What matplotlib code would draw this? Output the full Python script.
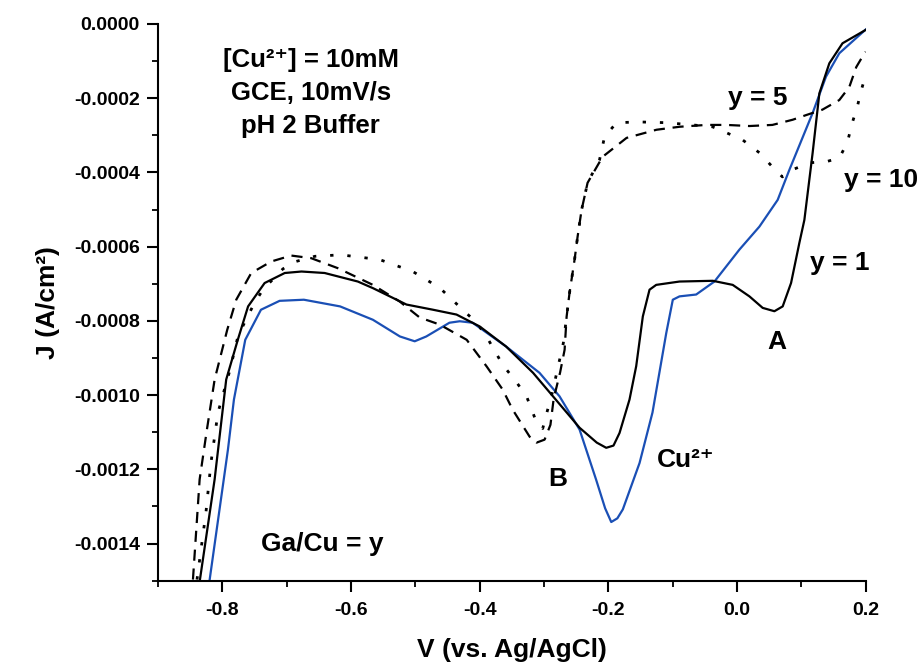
import matplotlib
matplotlib.use("Agg")
import matplotlib.pyplot as plt
from matplotlib.ticker import MultipleLocator, FuncFormatter

plt.rcParams['font.family'] = ['Liberation Sans', 'DejaVu Sans']
plt.rcParams['font.weight'] = 'bold'

# Cu2+ only (blue)
v_cu = [-0.8197, -0.7913, -0.782, -0.7644, -0.740, -0.711, -0.6733, -0.617, -0.566,
        -0.524, -0.501, -0.483, -0.447, -0.431, -0.411, -0.359, -0.307, -0.276,
        -0.2447, -0.219, -0.205, -0.1955, -0.186, -0.1775, -0.1515, -0.1314, -0.110,
        -0.0998, -0.0894, -0.0635, -0.0351, 0.0037, 0.0348, 0.0632, 0.0814, 0.1175,
        0.1383, 0.159, 0.2]
j_cu = [-0.001497, -0.0011467, -0.001012, -0.000851, -0.000770, -0.000746, -0.000743,
        -0.000761, -0.000797, -0.000842, -0.000855, -0.000842, -0.000805, -0.000801,
        -0.000805, -0.000869, -0.000940, -0.001003, -0.001093, -0.001228, -0.001305,
        -0.001342, -0.001332, -0.001308, -0.001183, -0.001047, -0.000833, -0.000743,
        -0.000734, -0.000729, -0.000694, -0.000608, -0.000546, -0.000474, -0.000393,
        -0.000240, -0.000142, -0.0000789, -0.000015]

# Ga/Cu = 1 (solid black)
v_y1 = [-0.8348, -0.812, -0.794, -0.776, -0.760, -0.7343, -0.703, -0.677, -0.641,
        -0.5894, -0.5657, -0.5138, -0.4725, -0.436, -0.400, -0.359, -0.317, -0.2862,
        -0.2447, -0.218, -0.2033, -0.192, -0.1826, -0.1671, -0.1567, -0.1464, -0.136,
        -0.1256, -0.0894, -0.0377, -0.0067, 0.0193, 0.0399, 0.0581, 0.071, 0.084,
        0.0969, 0.1047, 0.1175, 0.128, 0.1435, 0.164, 0.2]
j_y1 = [-0.001497, -0.001227, -0.000958, -0.000851, -0.000761, -0.000698, -0.000671,
        -0.000667, -0.000671, -0.000694, -0.000712, -0.000756, -0.000770, -0.000783,
        -0.000815, -0.000869, -0.000940, -0.001003, -0.001088, -0.001128, -0.001142,
        -0.001136, -0.001102, -0.001012, -0.000922, -0.000788, -0.000716, -0.000703,
        -0.000694, -0.000692, -0.000703, -0.000734, -0.000765, -0.000774, -0.000761,
        -0.000698, -0.000590, -0.000528, -0.000348, -0.000187, -0.000106, -0.000052,
        -0.000016]

# Ga/Cu = 5 (dashed)
v_y5 = [-0.8457, -0.8353, -0.824, -0.812, -0.7924, -0.7784, -0.7551, -0.724, -0.693,
        -0.662, -0.6205, -0.566, -0.5242, -0.4932, -0.4621, -0.4202, -0.3891,
        -0.3643, -0.3488, -0.3224, -0.3115, -0.2991, -0.2900, -0.2850, -0.2750,
        -0.2680, -0.2649, -0.2603, -0.2525, -0.2478, -0.2416, -0.2323, -0.209,
        -0.1717, -0.1251, -0.0894, -0.0475, -0.0166, 0.0193, 0.0550, 0.0866,
        0.1083, 0.1326, 0.159, 0.1745, 0.1854, 0.1947, 0.2]
j_y5 = [-0.001497, -0.001227, -0.001093, -0.000958, -0.000824, -0.000743, -0.000671,
        -0.000640, -0.000624, -0.000631, -0.000658, -0.000703, -0.000748, -0.000791,
        -0.000810, -0.000851, -0.000923, -0.000985, -0.001039, -0.001112, -0.001128,
        -0.001120, -0.001080, -0.001010, -0.000939, -0.000878, -0.000789, -0.000724,
        -0.000635, -0.000573, -0.000501, -0.000428, -0.000358, -0.000307, -0.000285,
        -0.000277, -0.000272, -0.000272, -0.000275, -0.000272, -0.000258, -0.000245,
        -0.000231, -0.000205, -0.000170, -0.000116, -0.0000888, -0.000075]

# Ga/Cu = 10 (dotted)
v_y10 = [-0.8394, -0.8255, -0.8177, -0.8068, -0.788, -0.7758, -0.7634, -0.7498, -0.737,
         -0.7059, -0.6857, -0.6562, -0.6158, -0.5553, -0.504, -0.4621, -0.4264,
         -0.4047, -0.3891, -0.3643, -0.3425, -0.327, -0.3115, -0.3020, -0.2960,
         -0.2866, -0.2790, -0.2700, -0.2649, -0.2603, -0.2525, -0.2478, -0.2416,
         -0.2323, -0.2137, -0.2059, -0.1873, -0.1516, -0.1096, -0.0693, -0.0382,
         -0.0166, 0.0084, 0.0348, 0.055, 0.0705, 0.0860, 0.1124, 0.1388, 0.159,
         0.1714, 0.1792, 0.187, 0.1932, 0.198]
j_y10 = [-0.001497, -0.001316, -0.001182, -0.001047, -0.000931, -0.000842, -0.000797,
         -0.000751, -0.000716, -0.000660, -0.000640, -0.000626, -0.000622, -0.000635,
         -0.000667, -0.000711, -0.000770, -0.000805, -0.000843, -0.000918, -0.000966,
         -0.001004, -0.001074, -0.001090, -0.001050, -0.000990, -0.000930, -0.000860,
         -0.000789, -0.000724, -0.000635, -0.000573, -0.000501, -0.000428, -0.000366,
         -0.000304, -0.000266, -0.000264, -0.000266, -0.000272, -0.000277, -0.000293,
         -0.000312, -0.000347, -0.000385, -0.000412, -0.000393, -0.000374, -0.000371,
         -0.000361, -0.000320, -0.000266, -0.000223, -0.000178, -0.000150]

x_ticks = [-0.8, -0.6, -0.4, -0.2, 0.0, 0.2]
y_ticks = [0.0, -0.0002, -0.0004, -0.0006, -0.0008, -0.0010, -0.0012, -0.0014]

fig = plt.figure(figsize=(9.23, 6.64), dpi=100)
ax = fig.add_axes([0.1712, 0.1255, 0.7667, 0.8384])

lw = 1.6
style = dict(solid_joinstyle='round', dash_joinstyle='round')
ax.plot(v_cu, j_cu, color='#1a4fb5', lw=lw, **style)
ax.plot(v_y1, j_y1, color='black', lw=lw, **style)
ax.plot(v_y5, j_y5, color='black', lw=lw, dashes=(5, 3.5), **style)
ax.plot(v_y10, j_y10, color='black', lw=lw + 0.4, dashes=(1.2, 5), **style)

ax.set_xlim(-0.9, 0.2)
ax.set_ylim(-0.0015, 0.0)
ax.set_xticks(x_ticks)
ax.set_yticks(y_ticks)
ax.xaxis.set_minor_locator(MultipleLocator(0.1))
ax.yaxis.set_minor_locator(MultipleLocator(0.0001))
ax.xaxis.set_major_formatter(FuncFormatter(lambda v, p: "0.0" if abs(v) < 1e-9 else f"{v:.1f}"))
ax.yaxis.set_major_formatter(FuncFormatter(lambda v, p: "0.0000" if abs(v) < 1e-12 else f"{v:.4f}"))

for s in ['top', 'right']:
    ax.spines[s].set_visible(False)
for s in ['left', 'bottom']:
    ax.spines[s].set_linewidth(1.5)

ax.tick_params(which='major', direction='out', length=8, width=1.5, labelsize=14)
ax.tick_params(axis='x', which='major', pad=7)
ax.tick_params(axis='y', which='major', pad=5)
ax.tick_params(which='minor', direction='out', length=4.5, width=1.3)
for lab in ax.get_xticklabels() + ax.get_yticklabels():
    lab.set_fontweight('bold')

ax.set_xlabel('V (vs. Ag/AgCl)', fontsize=19, fontweight='bold', labelpad=14)
ax.set_ylabel('J (A/cm²)', fontsize=19, fontweight='bold', labelpad=10)

tk = dict(ha='center', va='center', fontsize=18.5, fontweight='bold')
ax.text(-0.6624, -0.0000969, '[Cu²⁺] = 10mM', **tk)
ax.text(-0.6624, -0.0001857, 'GCE, 10mV/s', **tk)
ax.text(-0.6624, -0.0002746, 'pH 2 Buffer', **tk)

lk = dict(ha='center', va='center', fontsize=19, fontweight='bold', clip_on=False)
ax.text(0.0317, -0.000199, 'y = 5', **lk)
ax.text(0.2242, -0.00042, 'y = 10', **lk)
ax.text(0.159, -0.000643, 'y = 1', **lk)
ax.text(0.0612, -0.000856, 'A', **lk)
ax.text(-0.0801, -0.001174, 'Cu²⁺', **lk)
ax.text(-0.2789, -0.001227, 'B', **lk)
ax.text(-0.6453, -0.001402, 'Ga/Cu = y', **lk)

fig.savefig('out.png', dpi=100)
